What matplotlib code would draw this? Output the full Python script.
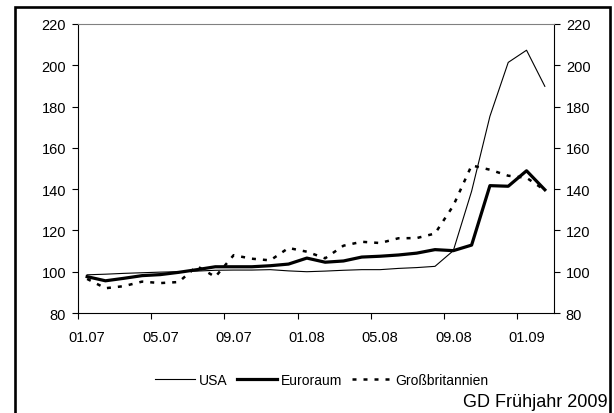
import matplotlib
matplotlib.use("Agg")
import matplotlib.pyplot as plt
from matplotlib.lines import Line2D

months = ["01.07", "02.07", "03.07", "04.07", "05.07", "06.07", "07.07", "08.07",
          "09.07", "10.07", "11.07", "12.07", "01.08", "02.08", "03.08", "04.08",
          "05.08", "06.08", "07.08", "08.08", "09.08", "10.08", "11.08", "12.08",
          "01.09", "02.09"]
usa = [98.5, 98.8, 99.2, 99.5, 99.8, 100.0, 100.3, 100.7, 100.8, 100.8, 101.0, 100.4,
       100.0, 100.3, 100.7, 101.0, 101.0, 101.6, 102.0, 102.6, 110.2, 139.0, 175.3,
       201.4, 207.3, 189.8]
euro = [97.6, 95.6, 96.8, 98.1, 98.6, 99.7, 101.0, 102.4, 102.4, 102.4, 102.9, 103.7,
        106.6, 104.6, 105.2, 107.1, 107.5, 108.1, 109.0, 110.7, 110.2, 112.9, 141.7,
        141.4, 148.9, 139.7]
gb = [96.5, 92.0, 93.0, 95.2, 94.5, 95.0, 102.7, 97.5, 108.0, 106.3, 105.5, 111.5,
      109.7, 106.5, 112.6, 114.5, 113.9, 116.2, 116.3, 118.5, 132.0, 151.5, 149.4,
      146.5, 145.5, 139.5]
series_names = ["USA", "Euroraum", "Großbritannien"]
yticks = [80, 100, 120, 140, 160, 180, 200, 220]
label_every = 4
source_text = "GD Frühjahr 2009"

plt.rcParams['font.family'] = ['Liberation Sans', 'DejaVu Sans']

W, H = 614, 414
fig = plt.figure(figsize=(W / 100, H / 100), dpi=100)
ax = fig.add_axes([78 / W, 1 - 314 / H, (554 - 78) / W, (314 - 25) / H])

x = list(range(len(months)))
ax.plot(x, usa, color="black", lw=0.8, label=series_names[0])
ax.plot(x, euro, color="black", lw=2.3, label=series_names[1])
ax.plot(x, gb, color="black", lw=1.8, linestyle=(0, (1.6, 2.8)), label=series_names[2])

ax.set_xlim(-0.5, len(months) - 0.5)
ax.set_ylim(yticks[0], yticks[-1])
ax.set_yticks(yticks)
ax.set_yticklabels([str(v) for v in yticks])

# tick marks between categories, labels centred on categories
ax.set_xticks([i - 0.5 for i in range(0, len(months), label_every)])
ax.set_xticklabels([])
ax.set_xticks(list(range(0, len(months), label_every)), minor=True)
ax.set_xticklabels([months[i] for i in range(0, len(months), label_every)], minor=True)
ax.tick_params(axis="x", which="major", direction="out", length=4.5, width=0.8)
ax.tick_params(axis="x", which="minor", length=0, pad=12.5, labelsize=10.5)
ax.tick_params(axis="y", direction="out", length=4, width=0.8, left=True, right=True,
               labelleft=True, labelright=True, labelsize=10.5, pad=4.5)

for s in ["left", "right", "bottom"]:
    ax.spines[s].set_color("black")
    ax.spines[s].set_linewidth(0.8)
ax.spines["top"].set_color("#808080")
ax.spines["top"].set_linewidth(0.8)

leg = fig.legend(loc="center", bbox_to_anchor=(0.524, 1 - 381 / H), ncol=3, frameon=False,
                 fontsize=10, handlelength=2.9, handletextpad=0.25, columnspacing=0.7)

fig.text(608 / W, 1 - 403 / H, source_text, ha="right", va="center", fontsize=13)

# outer frame (left, top, right)
lx, rx, ty = 15 / W, 610 / W, 1 - 8 / H
fig.add_artist(Line2D([lx, lx, rx, rx], [0, ty, ty, 0], transform=fig.transFigure,
                      color="black", lw=1.9, solid_joinstyle="miter"))

fig.savefig("out.png", dpi=100)
